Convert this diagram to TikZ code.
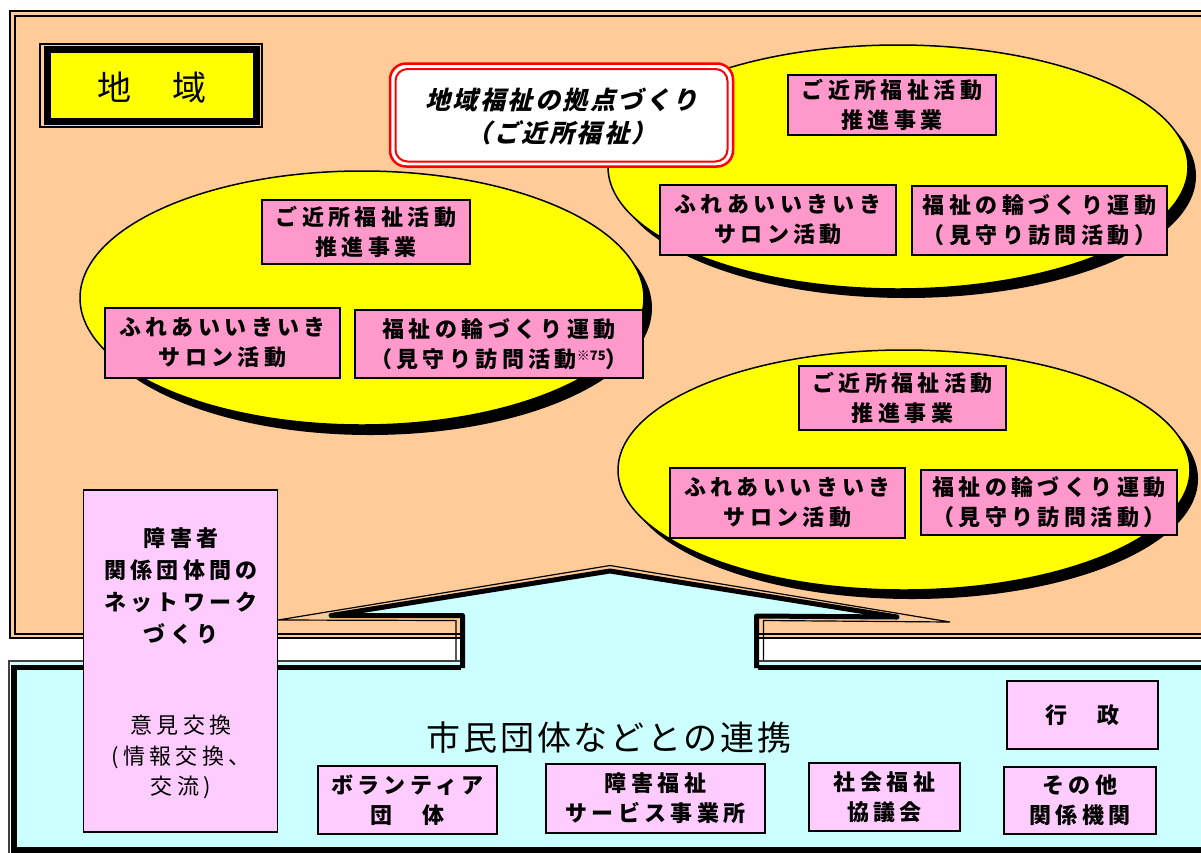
\documentclass[tikz,border=0pt]{standalone}
\usepackage{fontspec}
\setmainfont{Noto Sans CJK JP}
\newfontfamily\jpls{Noto Sans CJK JP}[LetterSpace=20]
\newfontfamily\jpmid{Noto Sans CJK JP}[LetterSpace=8]
\newfontfamily\jpchi{Noto Sans CJK JP}[LetterSpace=10]
\newfontfamily\jpti{Noto Sans CJK JP}[LetterSpace=10,FakeSlant=0.25]
\newfontfamily\jpsmall{Noto Sans CJK JP}
\definecolor{orng}{HTML}{FFCC99}
\definecolor{cyn}{HTML}{CCFFFF}
\definecolor{ylw}{HTML}{FFFF00}
\definecolor{pnk}{HTML}{FF99CC}
\definecolor{lpnk}{HTML}{FFCCFF}
\tikzset{
  pbox/.style={draw=black, line width=1.5, fill=pnk, inner sep=0pt, align=center,
    font=\jpls\bfseries\fontsize{22}{30}\selectfont},
  lbox/.style={pbox, fill=lpnk},
  shadowell/.style={fill=black},
  yell/.style={fill=ylw, draw=black, line width=1.5},
}
\begin{document}
\begin{tikzpicture}[x=1pt,y=-1pt]
\useasboundingbox (0,0) rectangle (1201,852);
\fill[white] (0,0) rectangle (1201,852);

% --- upper region (地域)
\fill[orng] (10,11) rectangle (1215,638);
\draw[line width=1.5] (10,11) rectangle (1215,638);
\draw[line width=2] (14.5,15.5) rectangle (1211,633.5);

% label box 地域
\draw[line width=1.5] (40,44) rectangle (262,127);
\draw[line width=7, fill=ylw] (47.5,49.5) rectangle (256.5,121);
\node[font=\jpchi\fontsize{34}{40}\selectfont] (chiiki) at (152,87.5) {地　域};

% --- ellipses with shadows
\fill[shadowell] (370,308) ellipse [x radius=282, y radius=127];
\filldraw[yell] (362,298) ellipse [x radius=282, y radius=127];
\fill[shadowell] (906,176) ellipse [x radius=290, y radius=122];
\filldraw[yell] (898,167) ellipse [x radius=290, y radius=122];
\fill[shadowell] (912,479) ellipse [x radius=286, y radius=120];
\filldraw[yell] (904,470) ellipse [x radius=286, y radius=120];

% --- boxes in ellipse 1
\node[pbox, minimum width=208, minimum height=64] (a1) at (366,232) {ご近所福祉活動\\推進事業};
\node[pbox, minimum width=235, minimum height=70] (a2) at (222.5,343) {ふれあいいきいき\\サロン活動};
\node[pbox, minimum width=288, minimum height=68] (a3) at (499,344) {福祉の輪づくり運動\\（見守り訪問活動\raisebox{7pt}{\jpsmall\fontsize{13}{13}\selectfont ※75}）};
% --- boxes in ellipse 2
\node[pbox, minimum width=208, minimum height=60] (b1) at (892,105) {ご近所福祉活動\\推進事業};
\node[pbox, minimum width=236, minimum height=70] (b2) at (778,220) {ふれあいいきいき\\サロン活動};
\node[pbox, minimum width=255, minimum height=69] (b3) at (1039.5,220.5) {福祉の輪づくり運動\\（見守り訪問活動）};
% --- boxes in ellipse 3
\node[pbox, minimum width=207, minimum height=64] (c1) at (902.5,398) {ご近所福祉活動\\推進事業};
\node[pbox, minimum width=235, minimum height=70] (c2) at (787.5,503) {ふれあいいきいき\\サロン活動};
\node[pbox, minimum width=256, minimum height=65] (c3) at (1049,502.5) {福祉の輪づくり運動\\（見守り訪問活動）};

% --- title box
\draw[red, line width=2.5, fill=white, rounded corners=16] (390,63.5) rectangle (733,166.5);
\draw[red, line width=2, rounded corners=12] (395.5,69) rectangle (727.5,161.5);
\node[font=\jpti\bfseries\fontsize{25}{33}\selectfont, align=center] (title) at (561.5,116) {地域福祉の拠点づくり\\（ご近所福祉）};

% --- lower region (cyan)
\fill[cyn] (11,662) rectangle (1215,860);
\draw[line width=1.2, black!75] (9,661) rectangle (1215,860);
\draw[line width=5.5] (14,667.5) rectangle (1211,850);

% --- big arrow
\fill[cyn] (331,616) -- (610,571) -- (897,617) -- (758,616) -- (758,673) -- (461,673) -- (461,616) -- cycle;
\draw[line width=1.2] (456,660) -- (456,620.5) -- (278,620) -- (610,565.5) -- (950,622) -- (763.5,620.5) -- (763.5,660);
\draw[line width=5, line join=round] (462.5,668) -- (462.5,615.5) -- (331,615.5) -- (610,571) -- (897,617) -- (756.5,616) -- (756.5,668);

% --- left network box
\node[lbox, minimum width=194, minimum height=342] (net) at (180.5,661) {};
\node[font=\jpls\bfseries\fontsize{22}{32}\selectfont, align=center] (nettop) at (181,586) {障害者\\関係団体間の\\ネットワーク\\づくり};
\node[font=\jpls\fontsize{22}{30.5}\selectfont, align=center] (netbot) at (181,757) {意見交換\\(情報交換、\\交流)};

% --- lower texts and boxes
\node[font=\jpmid\fontsize{34}{40}\selectfont] (renkei) at (609,738) {市民団体などとの連携};
\node[lbox, minimum width=179, minimum height=68] (d1) at (407.5,800) {ボランティア\\団　体};
\node[lbox, minimum width=219, minimum height=69] (d2) at (655.5,798.5) {障害福祉\\サービス事業所};
\node[lbox, minimum width=151, minimum height=68] (d3) at (884.5,797) {社会福祉\\協議会};
\node[lbox, minimum width=151, minimum height=68] (d4) at (1082.5,715) {行　政};
\node[lbox, minimum width=152, minimum height=67] (d5) at (1080,800.5) {その他\\関係機関};
\end{tikzpicture}
\end{document}
